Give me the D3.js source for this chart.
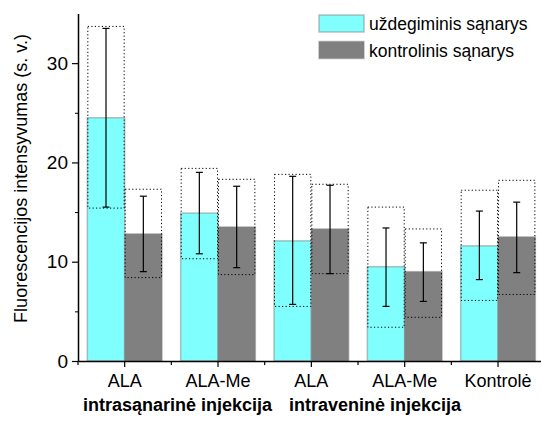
<!DOCTYPE html>
<html>
<head>
<meta charset="utf-8">
<script src="https://cdn.jsdelivr.net/npm/d3@7"></script>
<style>
  body { margin: 0; background: #fff; }
  svg { display: block; font-family: "Liberation Sans", Arial, sans-serif; }
</style>
</head>
<body>
<div id="chart"></div>
<script>
// Data
const groups = ["g1", "g2", "g3", "g4", "g5"];
const groupLabels = ["ALA", "ALA-Me", "ALA", "ALA-Me", "Kontrolė"];
const series = ["uždegiminis sąnarys", "kontrolinis sąnarys"];

// mean values (bar heights)
const inflamedMean = [24.5, 14.9, 12.1, 9.5, 11.6];
const controlMean  = [12.8, 13.5, 13.3, 9.0, 12.5];
// error bars (low, high)
const inflamedErrLow  = [15.5, 10.8, 5.7, 5.5, 8.2];
const inflamedErrHigh = [33.5, 19.0, 18.6, 13.4, 15.1];
const controlErrLow   = [9.0, 9.4, 8.8, 6.0, 8.9];
const controlErrHigh  = [16.6, 17.6, 17.7, 11.9, 16.0];
// dotted range boxes (low, high)
const inflamedBoxLow  = [15.4, 10.3, 5.5, 3.4, 6.1];
const inflamedBoxHigh = [33.7, 19.4, 18.8, 15.5, 17.2];
const controlBoxLow   = [8.4, 8.7, 8.8, 4.4, 6.7];
const controlBoxHigh  = [17.3, 18.3, 17.8, 13.3, 18.2];

const yMajorTicks = [0, 10, 20, 30];
const yMinorTicks = [5, 15, 25];
const groupTitles = ["intrasąnarinė injekcija", "intraveninė injekcija"];

const colors = ["#80ffff", "#808080"];

const width = 541, height = 421;
const svg = d3.select("#chart").append("svg")
    .attr("width", width)
    .attr("height", height);

const x = d3.scaleBand()
    .domain(groups)
    .range([78, 544.7])
    .paddingInner(0.2)
    .paddingOuter(0.1);

const xSub = d3.scaleBand()
    .domain([0, 1])
    .range([0, x.bandwidth()]);

const y = d3.scaleLinear()
    .domain([0, 35])
    .range([361, 13.5]);

// rows for bars
const rows = [];
groups.forEach((g, i) => {
    rows.push({ g, s: 0, mean: inflamedMean[i], eLo: inflamedErrLow[i], eHi: inflamedErrHigh[i], bLo: inflamedBoxLow[i], bHi: inflamedBoxHigh[i] });
    rows.push({ g, s: 1, mean: controlMean[i], eLo: controlErrLow[i], eHi: controlErrHigh[i], bLo: controlBoxLow[i], bHi: controlBoxHigh[i] });
});
const bx = d => x(d.g) + xSub(d.s);

// bars
svg.append("g").selectAll("rect")
    .data(rows)
    .enter().append("rect")
    .attr("x", d => bx(d))
    .attr("y", d => y(d.mean))
    .attr("width", xSub.bandwidth())
    .attr("height", d => y(0) - y(d.mean))
    .attr("fill", d => colors[d.s])
    .attr("stroke", "#808080")
    .attr("stroke-opacity", 0.5)
    .attr("stroke-width", 1.5);

// dotted boxes
svg.append("g").selectAll("rect")
    .data(rows)
    .enter().append("rect")
    .attr("x", d => bx(d) + 0.5)
    .attr("y", d => y(d.bHi))
    .attr("width", xSub.bandwidth() - 1)
    .attr("height", d => y(d.bLo) - y(d.bHi))
    .attr("fill", "none")
    .attr("stroke", "#000")
    .attr("stroke-width", 1)
    .attr("stroke-dasharray", "1.2,2.3");

// error bars
const err = svg.append("g").selectAll("g")
    .data(rows)
    .enter().append("g")
    .attr("stroke", "#000")
    .attr("stroke-width", 1.2);
const cx = d => bx(d) + xSub.bandwidth() / 2;
err.append("line")
    .attr("x1", cx).attr("x2", cx)
    .attr("y1", d => y(d.eLo)).attr("y2", d => y(d.eHi));
err.append("line")
    .attr("x1", d => cx(d) - 3.5).attr("x2", d => cx(d) + 3.5)
    .attr("y1", d => y(d.eHi)).attr("y2", d => y(d.eHi));
err.append("line")
    .attr("x1", d => cx(d) - 3.5).attr("x2", d => cx(d) + 3.5)
    .attr("y1", d => y(d.eLo)).attr("y2", d => y(d.eLo));

// y axis
const yAxis = svg.append("g")
    .attr("transform", "translate(78,0)")
    .call(d3.axisLeft(y).tickValues(yMajorTicks).tickSize(6).tickPadding(4).tickSizeOuter(0));
yAxis.selectAll("text").attr("font-size", 19).attr("fill", "#000");
yAxis.select(".domain").attr("stroke-width", 1.5);
yAxis.selectAll(".tick line").attr("stroke-width", 1.2);

svg.append("g")
    .attr("transform", "translate(78,0)")
    .call(d3.axisLeft(y).tickValues(yMinorTicks).tickSize(3).tickFormat("").tickSizeOuter(0))
    .call(g => g.select(".domain").remove());

// x axis
const xAxis = svg.append("g")
    .attr("transform", `translate(0,${y(0)})`)
    .call(d3.axisBottom(x).tickSize(6).tickPadding(7).tickSizeOuter(0)
        .tickFormat((d, i) => groupLabels[i]));
xAxis.selectAll("text").attr("font-size", 18).attr("fill", "#000");
xAxis.select(".domain").attr("stroke-width", 1.5);
xAxis.selectAll(".tick line").attr("stroke-width", 1.2);

// minor ticks at band boundaries
const bounds = d3.range(groups.length + 1).map(i => x.range()[0] + i * x.step());
svg.append("g").selectAll("line")
    .data(bounds)
    .enter().append("line")
    .attr("x1", d => d).attr("x2", d => d)
    .attr("y1", y(0)).attr("y2", y(0) + 4)
    .attr("stroke", "#000")
    .attr("stroke-width", 1.2);

// y title
svg.append("text")
    .attr("transform", `translate(27,${(35 + 322) / 2}) rotate(-90)`)
    .attr("text-anchor", "middle")
    .attr("font-size", 18)
    .text("Fluorescencijos intensyvumas (s. v.)");

// group titles
svg.append("text")
    .attr("x", 83).attr("y", 411)
    .attr("font-size", 18).attr("font-weight", "bold")
    .text(groupTitles[0]);
svg.append("text")
    .attr("x", 289).attr("y", 411)
    .attr("font-size", 18).attr("font-weight", "bold")
    .text(groupTitles[1]);

// legend
const legend = svg.append("g").selectAll("g")
    .data(series)
    .enter().append("g")
    .attr("transform", (d, i) => `translate(319,${15 + i * 26.5})`);
legend.append("rect")
    .attr("width", 45).attr("height", 17)
    .attr("fill", (d, i) => colors[i])
    .attr("stroke", "#808080")
    .attr("stroke-opacity", 0.5)
    .attr("stroke-width", 1.5);
legend.append("text")
    .attr("x", 50).attr("y", 15)
    .attr("font-size", 17.5)
    .text(d => d);
</script>
</body>
</html>
